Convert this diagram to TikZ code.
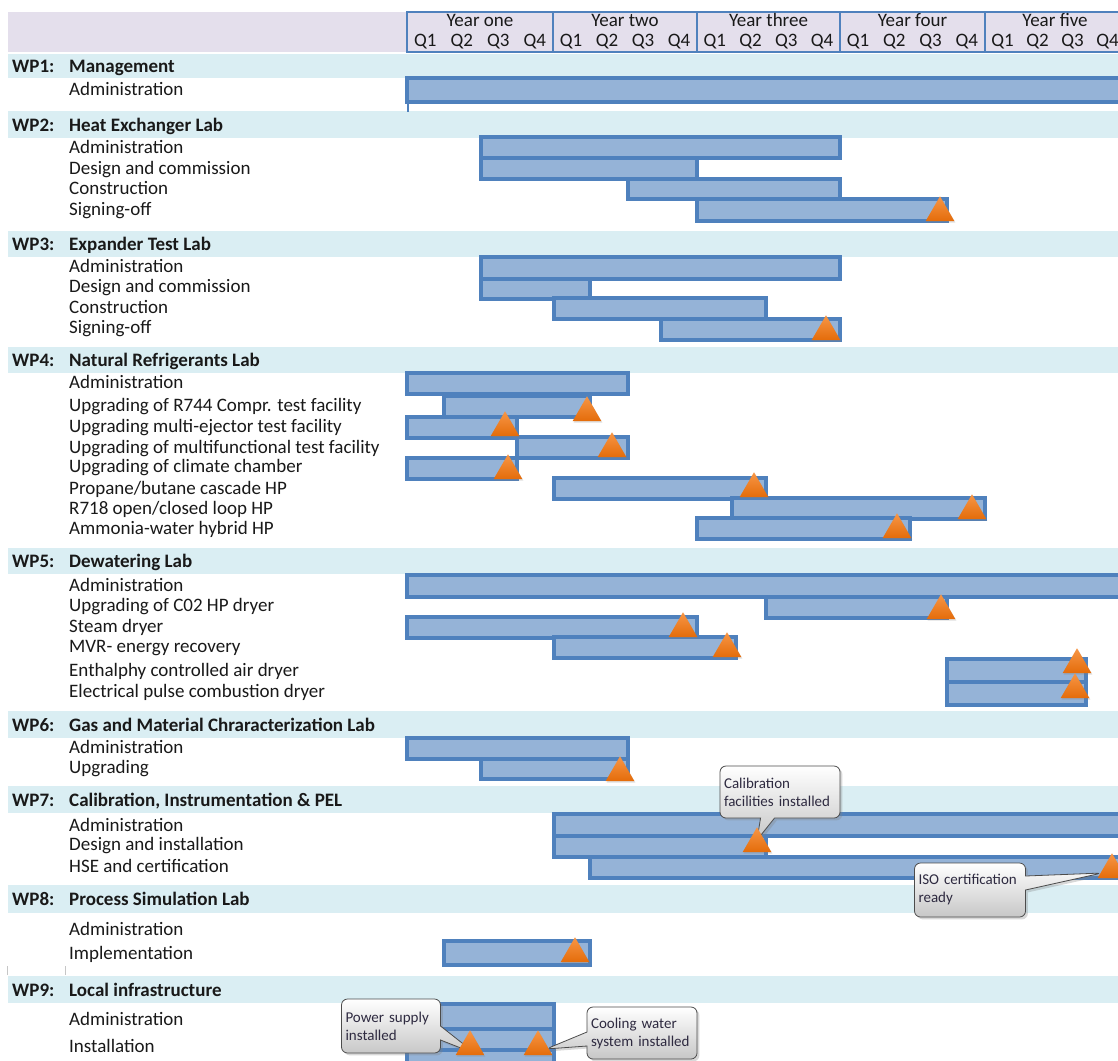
\documentclass[tikz,border=0pt]{standalone}
\usepackage{fontspec}
\setmainfont{Carlito}
\usetikzlibrary{shapes.geometric,shapes.callouts,shadows}
\definecolor{hdr}{HTML}{E4DFEC}
\definecolor{band}{HTML}{DAEEF3}
\definecolor{barfill}{HTML}{95B3D7}
\definecolor{barline}{HTML}{4F81BD}
\definecolor{mstop}{HTML}{F79646}
\definecolor{msbot}{HTML}{E46C0A}
\definecolor{notetext}{HTML}{2E2A40}
\newcommand\task[3]{\node[lbl] (#1) at (69,#2+6) {#3};}
\newcommand\wpband[5]{%
  \fill[band] (8,#2) rectangle (1118,#3);
  \node[wp] (#1n) at (12,{(#2+#3)/2+6.5}) {#4};
  \node[wp] (#1t) at (69,{(#2+#3)/2+6.5}) {#5};}
\newcommand\ganttbar[4]{\draw[gbar] (#1,#3) rectangle (#2,#4);}
\begin{document}
\begin{tikzpicture}[x=1pt,y=-1pt,
  lbl/.style={anchor=base west, inner sep=0pt, font=\fontsize{19}{22}\selectfont, text=black!90},
  wp/.style={anchor=base west, inner sep=0pt, font=\fontsize{19}{22}\selectfont\bfseries, text=black!90},
  gbar/.style={fill=barfill, draw=barline, line width=3.3pt},
  yearbox/.style={draw=barline, line width=2.2pt, fill=hdr},
  hd/.style={font=\fontsize{19}{22}\selectfont, inner sep=0pt, anchor=base, text=black!90},
  ms/.style={regular polygon, regular polygon sides=3, minimum size=33pt, inner sep=0pt, outer sep=0pt,
    anchor=side 2, top color=mstop, bottom color=msbot, draw=none,
    drop shadow={opacity=0.25, shadow xshift=1pt, shadow yshift=-1.5pt}},
  note/.style={rectangle callout, rounded corners=6pt, draw=black!70, line width=0.8pt,
    top color=white, bottom color=black!22, align=left, font=\fontsize{15}{18}\selectfont,
    text=notetext, inner sep=4pt, callout pointer width=14pt, drop shadow={opacity=0.3}}
]
\useasboundingbox (0,0) rectangle (1118,1060);
\clip (0,0) rectangle (1118,1060);
\fill[white] (0,0) rectangle (1118,1060);

% header
\fill[hdr] (8,12) rectangle (1118,52);
\foreach \a/\b/\t [count=\i] in {407/553/Year one, 553/697/Year two, 697/840/Year three, 840/985/Year four, 985/1125/Year five}{
  \draw[yearbox] (\a,12) rectangle (\b,52);
  \node[hd] (yr\i) at ({(\a+\b)/2},26) {\t};
  \foreach \k in {1,2,3,4}{
    \node[hd] (q\i\k) at ({\a+(\b-\a)*(\k-0.5)/4},46) {Q\k};
  }
}

% WP bands and labels
\wpband{w1}{54}{78}{WP1:}{Management}
\wpband{w2}{111}{138}{WP2:}{Heat Exchanger Lab}
\wpband{w3}{231}{257}{WP3:}{Expander Test Lab}
\wpband{w4}{347}{373}{WP4:}{Natural Refrigerants Lab}
\wpband{w5}{548}{574}{WP5:}{Dewatering Lab}
\wpband{w6}{711}{738}{WP6:}{Gas and Material Chraracterization Lab}
\wpband{w7}{786}{813}{WP7:}{Calibration, Instrumentation \& PEL}
\wpband{w8}{885}{913}{WP8:}{Process Simulation Lab}
\wpband{w9}{976}{1003}{WP9:}{Local infrastructure}

\task{t11}{89}{Administration}
\task{t21}{147}{Administration}
\task{t22}{168}{Design and commission}
\task{t23}{188}{Construction}
\task{t24}{209}{Signing-off}
\task{t31}{266}{Administration}
\task{t32}{286}{Design and commission}
\task{t33}{307}{Construction}
\task{t34}{327}{Signing-off}
\task{t41}{382}{Administration}
\task{t42}{405}{Upgrading of R744 Compr. test facility}
\task{t43}{426}{Upgrading multi-ejector test facility}
\task{t44}{447}{Upgrading of multifunctional test facility}
\task{t45}{466}{Upgrading of climate chamber}
\task{t46}{488}{Propane/butane cascade HP}
\task{t47}{508}{R718 open/closed loop HP}
\task{t48}{528}{Ammonia-water hybrid HP}
\task{t51}{585}{Administration}
\task{t52}{605}{Upgrading of C02 HP dryer}
\task{t53}{626}{Steam dryer}
\task{t54}{646}{MVR- energy recovery}
\task{t55}{670}{Enthalphy controlled air dryer}
\task{t56}{691}{Electrical pulse combustion dryer}
\task{t61}{747}{Administration}
\task{t62}{767}{Upgrading}
\task{t71}{825}{Administration}
\task{t72}{844}{Design and installation}
\task{t73}{866}{HSE and certification}
\task{t81}{929}{Administration}
\task{t82}{953}{Implementation}
\task{t91}{1019}{Administration}
\task{t92}{1046}{Installation}

% small marks
\draw[barline, line width=2pt] (408,102) -- (408,112);
\draw[gray!45, line width=0.8pt] (7,966) -- (7,975);
\draw[gray!45, line width=0.8pt] (65,966) -- (65,975);

% bars
\ganttbar{407}{1125}{78}{102}
\ganttbar{481}{840}{137}{158}
\ganttbar{481}{697}{158}{179}
\ganttbar{628}{840}{179}{199}
\ganttbar{697}{947}{199}{221}
\ganttbar{481}{840}{257}{279}
\ganttbar{481}{590}{279}{299}
\ganttbar{554}{766}{298}{319}
\ganttbar{661}{840}{319}{340}
\ganttbar{407}{628}{373}{394}
\ganttbar{444}{590}{396}{417}
\ganttbar{407}{517}{417}{438}
\ganttbar{517}{628}{437}{458}
\ganttbar{407}{517}{458}{479}
\ganttbar{554}{766}{478}{499}
\ganttbar{732}{985}{498}{519}
\ganttbar{697}{910}{518}{539}
\ganttbar{407}{1125}{575}{597}
\ganttbar{766}{947}{597}{618}
\ganttbar{407}{697}{617}{638}
\ganttbar{554}{736}{637}{658}
\ganttbar{947}{1086}{659}{682}
\ganttbar{947}{1086}{682}{705}
\ganttbar{407}{628}{738}{759}
\ganttbar{481}{628}{759}{779}
\ganttbar{554}{1125}{814}{836}
\ganttbar{554}{766}{836}{857}
\ganttbar{590}{1125}{857}{878}
\ganttbar{444}{590}{941}{965}
\ganttbar{438}{554}{1004}{1029}
\ganttbar{438}{554}{1029}{1050}
\ganttbar{407}{554}{1050}{1075}

% milestone positions
\coordinate (m1) at (940,221);
\coordinate (m2) at (826,340);
\coordinate (m3) at (587,421);
\coordinate (m4) at (505,436);
\coordinate (m5) at (612,457);
\coordinate (m6) at (508,479);
\coordinate (m7) at (754,497);
\coordinate (m8) at (972,519);
\coordinate (m9) at (897,538);
\coordinate (m10) at (941,619);
\coordinate (m11) at (683,637);
\coordinate (m12) at (727,657);
\coordinate (m13) at (1077,673);
\coordinate (m14) at (1075,698);
\coordinate (m15) at (620,781);
\coordinate (m16) at (757,852);
\coordinate (m17) at (1112,878);
\coordinate (m18) at (575,962);
\coordinate (m19) at (470,1055);
\coordinate (m20) at (538,1055);

% callout pointer targets
\coordinate (p16) at (757,840);
\coordinate (p17) at (1102,873);
\coordinate (p19) at (476,1054);
\coordinate (p20) at (546,1049);

% callouts
\node[note, minimum width=120pt, minimum height=52pt, text width=112pt, callout absolute pointer={(p16)}] (c1) at (780,792) {Calibration\\facilities installed};
\node[note, minimum width=111pt, minimum height=54pt, text width=103pt, callout absolute pointer={(p17)}] (c2) at (970,890) {ISO certification\\ready};
\node[note, minimum width=99pt, minimum height=54pt, text width=91pt, callout absolute pointer={(p19)}] (c3) at (391,1026) {Power supply\\installed};
\node[note, minimum width=110pt, minimum height=52pt, text width=102pt, callout absolute pointer={(p20)}] (c4) at (642,1033) {Cooling water\\system installed};

% milestones
\foreach \m in {1,...,20}{ \node[ms] (ms\m) at (m\m) {}; }
\end{tikzpicture}
\end{document}
